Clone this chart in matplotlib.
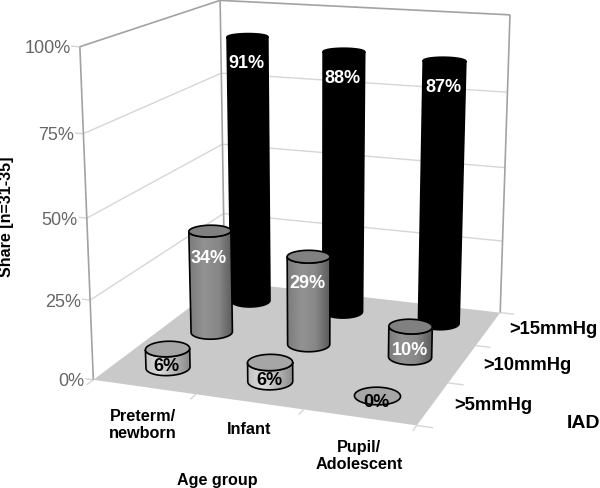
import numpy as np
import matplotlib
matplotlib.use("Agg")
import matplotlib.pyplot as plt
from matplotlib.colors import LinearSegmentedColormap
from matplotlib.patches import Polygon

plt.rcParams["font.family"] = ["Liberation Sans", "DejaVu Sans"]

age_groups = ["Preterm/\nnewborn", "Infant", "Pupil/\nAdolescent"]
iad_levels = [">5mmHg", ">10mmHg", ">15mmHg"]
share_5 = [6, 6, 0]
share_10 = [34, 29, 10]
share_15 = [91, 88, 87]
z_ticks = [0, 25, 50, 75, 100]

# 箱体角点在图上的位置,用来标定透视矩阵
BOX_3D = [(0, 0, 0), (3, 0, 0), (3, 3, 0), (0, 3, 0),
          (0, 0, 100), (0, 3, 100), (3, 3, 100)]
BOX_PX = [(93, 380), (417, 427), (500, 313), (225, 283),
          (80, 48), (220, 1), (510, 16)]

GRID = "#d6d6d6"
FRAME = "#a2a2a2"
FLOOR = "#c9c9c9"
TICK_TXT = "#666666"
RADIUS = 0.2

SERIES = [
    (share_15, ["#000000", "#000000"], "#000000", "white"),
    (share_10, ["#7c7c7c", "#929292", "#888888", "#5c5c5c"], "#808080", "white"),
    (share_5, ["#c4c4c4", "#dcdcdc", "#b4b4b4", "#8a8a8a"], "#a6a6a6", "black"),
]


def fit_projection(pts3d, pts2d):
    rows = []
    for (x, y, z), (u, v) in zip(pts3d, pts2d):
        rows.append([x, y, z / 100, 1, 0, 0, 0, 0, -u * x, -u * y, -u * z / 100, -u])
        rows.append([0, 0, 0, 0, x, y, z / 100, 1, -v * x, -v * y, -v * z / 100, -v])
    return np.linalg.svd(np.array(rows, dtype=float))[2][-1].reshape(3, 4)


P = fit_projection(BOX_3D, BOX_PX)


def proj(x, y, z):
    x, y, z = np.broadcast_arrays(np.asarray(x, float), np.asarray(y, float),
                                  np.asarray(z, float))
    h = P @ np.stack([x, y, z / 100, np.ones_like(x)])
    return h[0] / h[2], h[1] / h[2]


def line3d(ax, a, b, **kw):
    xs, ys = proj([a[0], b[0]], [a[1], b[1]], [a[2], b[2]])
    ax.plot(xs, ys, solid_capstyle="butt", **kw)


def draw_walls(ax):
    for z in z_ticks[1:-1]:
        line3d(ax, (0, 0, z), (0, 3, z), color=GRID, lw=1, zorder=1)
        line3d(ax, (0, 3, z), (3, 3, z), color=GRID, lw=1, zorder=1)
    for a, b in [((0, 0, 0), (0, 0, 100)), ((0, 3, 0), (0, 3, 100)),
                 ((3, 3, 0), (3, 3, 100)), ((0, 0, 100), (0, 3, 100)),
                 ((0, 3, 100), (3, 3, 100))]:
        line3d(ax, a, b, color=FRAME, lw=1.2, zorder=1.5)
    xs, ys = proj([0, 3, 3, 0], [0, 0, 3, 3], [0, 0, 0, 0])
    ax.add_patch(Polygon(np.c_[xs, ys], fc=FLOOR, ec="none", zorder=2))

    for z in z_ticks:
        line3d(ax, (-0.08, 0, z), (0, 0, z), color=GRID, lw=1, zorder=1)
        tx, ty = proj(0, 0, z)
        ax.text(float(tx) - 9, float(ty) + 1, f"{z}%", ha="right", va="center",
                fontsize=13, color=TICK_TXT)
    for i in range(4):
        line3d(ax, (i, 0, 0), (i, -0.12, 0), color=GRID, lw=1, zorder=1)
        line3d(ax, (3, i, 0), (3.14, i, 0), color=GRID, lw=1, zorder=1)


def front_arc(xs, ys):
    # 从最左点沿前侧走到最右点(角度递增即经过前侧)
    left, right = int(np.argmin(xs)), int(np.argmax(xs))
    idx = (left + np.arange((right - left) % len(xs) + 1)) % len(xs)
    return np.c_[xs[idx], ys[idx]]


def draw_cylinder(ax, cx, cy, value, stops, top_color, order):
    t = np.linspace(0, 2 * np.pi, 120, endpoint=False)
    bx, by = proj(cx + RADIUS * np.cos(t), cy + RADIUS * np.sin(t), 0)
    tx, ty = proj(cx + RADIUS * np.cos(t), cy + RADIUS * np.sin(t), value)
    edge = "black"

    if value > 0:
        body = np.r_[front_arc(bx, by), front_arc(tx, ty)[::-1]]
        patch = Polygon(body, fc="none", ec=edge, lw=1.2, zorder=order + 0.2)
        ax.add_patch(patch)
        cmap = LinearSegmentedColormap.from_list("side", stops)
        im = ax.imshow(np.linspace(0, 1, 64)[None, :], cmap=cmap, aspect="auto",
                       extent=(body[:, 0].min(), body[:, 0].max(),
                               body[:, 1].max(), body[:, 1].min()),
                       zorder=order + 0.1, interpolation="bilinear")
        im.set_clip_path(patch)
    lid = Polygon(np.c_[tx, ty], fc=top_color, ec=edge, lw=1.2, zorder=order + 0.3)
    ax.add_patch(lid)
    return float(tx.mean()), float(ty.mean()), lid


fig = plt.figure(figsize=(6, 4.89), dpi=100, facecolor="white")
ax = fig.add_axes([0, 0, 1, 1])
ax.axis("off")
draw_walls(ax)

for row in range(2, -1, -1):
    values, stops, top_color, txt_color = SERIES[2 - row]
    for col, value in enumerate(values):
        order = 3 + (2 - row) * 3 + col * 0.5
        px, py, lid = draw_cylinder(ax, col + 0.5, row + 0.5, value, stops,
                                    top_color, order)
        if value > 20:
            off = 26
        elif value > 7:
            off = 23
        elif value > 0:
            off = 17
        else:
            off = 6
        label = ax.text(px - 1, py + off, f"{value}%", ha="center", va="center",
                        fontsize=13, fontweight="bold", color=txt_color,
                        zorder=order + 0.5)
        if value == 0:
            label.set_clip_path(lid)

for label, (x, y) in zip(age_groups, [(143, 425), (249, 430), (359, 456)]):
    ax.text(x, y, label, ha="center", va="center", fontsize=11.7,
            fontweight="bold", linespacing=1.2)
ax.text(217, 480, "Age group", ha="center", va="center", fontsize=11.6,
        fontweight="bold")
for label, (x, y) in zip(iad_levels, [(493, 405), (527, 366), (553, 330)]):
    ax.text(x, y, label, ha="center", va="center", fontsize=13.2, fontweight="bold")
ax.text(583, 423, "IAD", ha="center", va="center", fontsize=14, fontweight="bold")
ax.text(7, 217, "Share [n=31-35]", rotation=90, ha="center", va="center",
        fontsize=11.5, fontweight="bold")

ax.set_xlim(0, 600)
ax.set_ylim(489, 0)
fig.savefig("out.png", dpi=100, facecolor="white")
